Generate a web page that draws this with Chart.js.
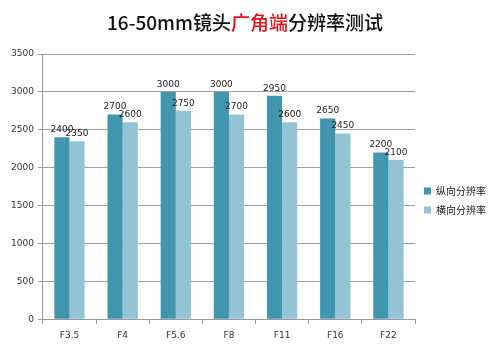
<!DOCTYPE html>
<html>
<head>
<meta charset="utf-8">
<script src="https://cdn.jsdelivr.net/npm/chart.js@4/dist/chart.umd.min.js"></script>
<style>
  html, body { margin: 0; padding: 0; background: #fff; }
  #wrap { position: relative; width: 500px; height: 354px; }
  #title {
    position: absolute; left: -5px; top: 8px; width: 500px; text-align: center;
    font-family: "Noto Sans CJK SC", sans-serif; font-size: 19px; font-weight: 500;
    color: #111; line-height: 28px;
  }
  #title .red { color: #e0141e; }
</style>
</head>
<body>
<div id="wrap">
  <canvas id="resChart" width="500" height="354"></canvas>
  <div id="title">16-50mm镜头<span class="red">广角端</span>分辨率测试</div>
</div>
<script>
// 16-50mm wide-angle resolution test

const apertures = ["F3.5", "F4", "F5.6", "F8", "F11", "F16", "F22"];
const verticalRes = [2400, 2700, 3000, 3000, 2950, 2650, 2200];
const horizontalRes = [2350, 2600, 2750, 2700, 2600, 2450, 2100];
const seriesNames = ["纵向分辨率", "横向分辨率"];
const yTicks = [0, 500, 1000, 1500, 2000, 2500, 3000, 3500];

// little numbers above each bar
const barValues = {
  id: "barValues",
  afterDatasetsDraw(chart) {
    let ctx = chart.ctx;
    ctx.save();
    ctx.font = "9px 'DejaVu Sans'";
    ctx.fillStyle = "#222";
    ctx.textAlign = "center";
    ctx.textBaseline = "bottom";
    chart.data.datasets.forEach((ds, i) => {
      chart.getDatasetMeta(i).data.forEach((bar, j) => {
        ctx.fillText(ds.data[j], bar.x, bar.y - 3);
      });
    });
    ctx.restore();
  },
};

let resCtx = document.getElementById("resChart").getContext("2d");
let resChart = new Chart(resCtx, {
  type: "bar",
  data: {
    labels: apertures,
    datasets: [
      {
        label: seriesNames[0],
        data: verticalRes,
        backgroundColor: "#4196ae",
      },
      {
        label: seriesNames[1],
        data: horizontalRes,
        backgroundColor: "#93c4d6",
      },
    ],
  },
  options: {
    responsive: false,
    animation: false,
    layout: { padding: { top: 54, left: 7, right: 4, bottom: 7 } },
    datasets: {
      bar: { categoryPercentage: 0.57, barPercentage: 1.0 },
    },
    plugins: {
      legend: {
        position: "right",
        labels: {
          boxWidth: 7,
          boxHeight: 7,
          padding: 9,
          color: "#222",
          font: { family: "'Noto Sans CJK SC'", size: 10 },
        },
      },
      tooltip: { enabled: false },
    },
    scales: {
      x: {
        grid: { display: true, drawOnChartArea: false, color: "#999", tickLength: 5 },
        border: { color: "#999" },
        ticks: {
          color: "#333",
          padding: 6,
          font: { family: "'DejaVu Sans'", size: 9 },
        },
      },
      y: {
        min: 0,
        max: 3500,
        afterBuildTicks(axis) {
          axis.ticks = yTicks.map((v) => ({ value: v }));
        },
        grid: { color: "#a0a0a0", tickLength: 5 },
        border: { color: "#999" },
        ticks: {
          color: "#333",
          padding: 4,
          font: { family: "'DejaVu Sans'", size: 9 },
          callback: (v) => String(v),
        },
      },
    },
  },
  plugins: [barValues],
});
</script>
</body>
</html>
